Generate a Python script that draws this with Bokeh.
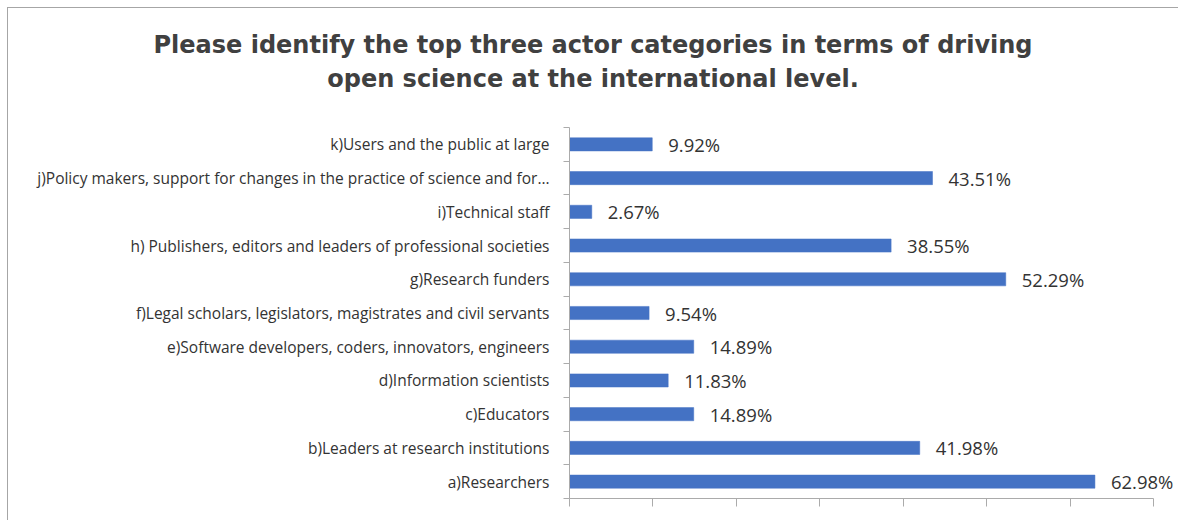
from bokeh.plotting import figure
from bokeh.layouts import column
from bokeh.models import Range1d, FixedTicker, ColumnDataSource, LabelSet, Div
from bokeh.core.properties import value
from bokeh.embed import file_html
from bokeh.resources import INLINE

# ---- data (bottom to top) ----
categories = [
    "a)Researchers",
    "b)Leaders at research institutions",
    "c)Educators",
    "d)Information scientists",
    "e)Software developers, coders, innovators, engineers",
    "f)Legal scholars, legislators, magistrates and civil servants",
    "g)Research funders",
    "h) Publishers, editors and leaders of professional societies",
    "i)Technical staff",
    "j)Policy makers, support for changes in the practice of science and for\u2026",
    "k)Users and the public at large",
]
values = [62.98, 41.98, 14.89, 11.83, 14.89, 9.54, 52.29, 38.55, 2.67, 43.51, 9.92]
x_ticks = [0, 10, 20, 30, 40, 50, 60, 70]
title_lines = [
    "Please identify the top three actor categories in terms of driving",
    "open science at the international level.",
]

# ---- layout constants (pixels) ----
W = 1170              # total width of chart area
TH = 112              # title strip height
CH = 400              # chart figure height
B_LEFT, B_TOP, B_BOTTOM = 561, 7, 22
PX_PER_PCT = 8.343    # horizontal scale
AXIS_COLOR = "#ababab"
BAR_COLOR = "#4472C4"
TEXT_COLOR = "#333333"
TITLE_COLOR = "#404040"

n = len(categories)
ys = [i + 0.5 for i in range(n)]
src = ColumnDataSource(dict(
    y=ys,
    v=values,
    lbl=[f"{v:.2f}%" for v in values],
))

# ---------------- title strip ----------------
title_html = (
    '<div style="padding-top:21px; width:%dpx; text-align:center; white-space:nowrap; '
    'font-family:\'DejaVu Sans\'; font-weight:bold; font-size:24px; line-height:33.5px; '
    'color:%s;">%s</div>' % (W, TITLE_COLOR, "<br>".join(title_lines))
)
title_div = Div(text=title_html, width=W, height=TH, margin=(0, 0, 0, 0))

# ---------------- bar chart ----------------
frame_w = W - B_LEFT
x_max = frame_w / PX_PER_PCT

p = figure(
    width=W, height=CH,
    x_range=Range1d(0, x_max), y_range=Range1d(0, n),
    output_backend="svg", toolbar_location=None,
    min_border_left=B_LEFT, min_border_right=0,
    min_border_top=B_TOP, min_border_bottom=B_BOTTOM,
    margin=(0, 0, 0, 0),
)
p.outline_line_color = None
p.xgrid.visible = False
p.ygrid.visible = False

p.hbar(y="y", left=0, right="v", height=0.39, fill_color=BAR_COLOR,
       line_color=BAR_COLOR, line_width=0.5, source=src)

labels = LabelSet(x="v", y="y", text="lbl", x_offset=16, source=src,
                  text_baseline="middle", text_align="left",
                  text_font=value("Open Sans"), text_font_size="18.5px",
                  text_color=TEXT_COLOR)
p.add_layout(labels)

# y axis: category labels centered, ticks at category boundaries
ya = p.yaxis[0]
ya.ticker = FixedTicker(ticks=ys, minor_ticks=list(range(n + 1)))
ya.major_label_overrides = {y: c for y, c in zip(ys, categories)}
ya.major_tick_out = 0
ya.major_tick_in = 0
ya.minor_tick_out = 6
ya.minor_tick_in = 0
ya.minor_tick_line_color = AXIS_COLOR
ya.axis_line_color = AXIS_COLOR
ya.major_label_standoff = 14
ya.major_label_text_font = "Open Sans"
ya.major_label_text_font_size = "15.5px"
ya.major_label_text_color = TEXT_COLOR

# x axis: ticks only (labels cropped off in reference)
xa = p.xaxis[0]
xa.bounds = (0, x_ticks[-1])
xa.ticker = FixedTicker(ticks=x_ticks)
xa.major_label_overrides = {t: "" for t in x_ticks}
xa.major_label_text_font_size = "1px"
xa.major_label_standoff = 0
xa.major_tick_out = 8
xa.major_tick_in = 0
xa.minor_tick_line_color = None
xa.major_tick_line_color = AXIS_COLOR
xa.axis_line_color = AXIS_COLOR

layout = column(title_div, p, spacing=0)
layout.styles = {"margin-left": "7px", "margin-top": "7px",
                 "border-left": "1px solid #a6a6a6", "border-top": "1px solid #a6a6a6"}

open("out.html", "w").write(file_html(layout, INLINE))
